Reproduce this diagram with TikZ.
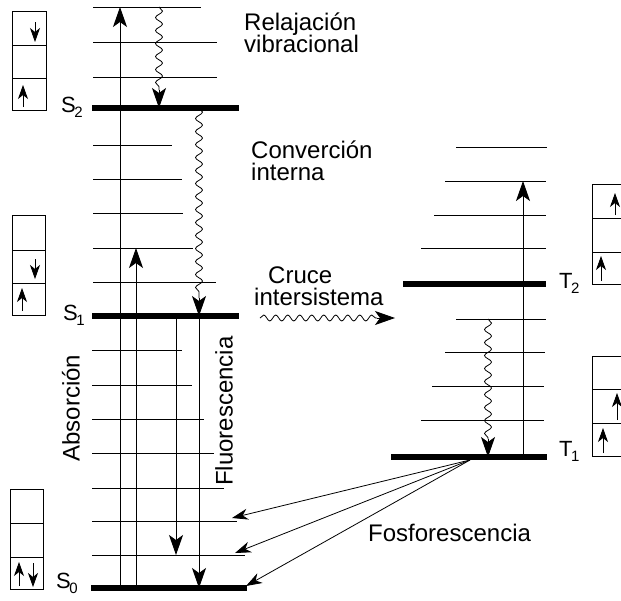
\documentclass[tikz,border=0pt]{standalone}
\usepackage{fontspec}
\setmainfont{Liberation Sans}
\usetikzlibrary{arrows.meta,decorations.pathmorphing}

% state label with a tucked-in subscript
\newcommand\statelbl[2]{#1\kern-1.5pt\raisebox{-5pt}{\fontsize{15}{15}\selectfont #2}}

\begin{document}
\begin{tikzpicture}[x=1pt,y=-1pt,
  vib/.style={line width=0.9pt},
  elec/.style={line width=5.5pt},
  trans/.style={line width=0.9pt,-{Stealth[length=20pt,width=14pt,inset=5pt]}},
  phos/.style={line width=0.8pt,-{Stealth[length=16pt,width=11pt,inset=5pt]}},
  spin/.style={line width=0.8pt,-{Stealth[length=14pt,width=10pt,inset=4pt]}},
  wavy/.style={line width=0.8pt,decorate,decoration={snake,amplitude=3.5pt,segment length=13pt}},
  cell/.style={line width=0.9pt},
  lbl/.style={inner sep=0pt,font=\fontsize{24}{22}\selectfont},
  statename/.style={inner sep=0pt,anchor=base west,font=\fontsize{22}{22}\selectfont}
]
\clip (0,0) rectangle (621,600);
\fill[white] (0,0) rectangle (621,600);

% ---------- singlet manifold ----------
% vibrational sublevels of S2
\draw[vib] (93,7) -- (201,7);
\draw[vib] (93,42) -- (217,42);
\draw[vib] (93,77) -- (217,77);
% vibrational sublevels of S1
\draw[vib] (93,145) -- (172,145);
\draw[vib] (93,179) -- (182,179);
\draw[vib] (93,213) -- (183,213);
\draw[vib] (93,248) -- (193,248);
\draw[vib] (93,282) -- (216,282);
% vibrational sublevels of S0
\draw[vib] (92,350) -- (182,350);
\draw[vib] (92,385) -- (192,385);
\draw[vib] (92,419) -- (204,419);
\draw[vib] (92,453) -- (214,453);
\draw[vib] (92,488) -- (224,488);
\draw[vib] (92,521) -- (237,521);
\draw[vib] (92,555) -- (245,555);
% electronic levels
\draw[elec] (92,108) -- (239,108);
\draw[elec] (92,316) -- (239,316);
\draw[elec] (91,588) -- (247,588);

% ---------- triplet manifold ----------
\draw[vib] (456,147) -- (547,147);
\draw[vib] (445,181) -- (546,181);
\draw[vib] (434,215) -- (546,215);
\draw[vib] (421,248) -- (546,248);
\draw[vib] (456,319) -- (546,319);
\draw[vib] (445,352) -- (545,352);
\draw[vib] (432,386) -- (544,386);
\draw[vib] (421,420) -- (544,420);
\draw[elec] (403,284) -- (546,284);
\draw[elec] (391,457) -- (547,457);

% ---------- transition end points ----------
\coordinate (absA0) at (120,588);  \coordinate (absA1) at (120,7);
\coordinate (absB0) at (136,588);  \coordinate (absB1) at (136,248);
\coordinate (fluA0) at (176,316);  \coordinate (fluA1) at (176,555);
\coordinate (fluB0) at (199,316);  \coordinate (fluB1) at (199,588);
\coordinate (tabs0) at (523,457);  \coordinate (tabs1) at (523,181);
\coordinate (rv0) at (159,7);      \coordinate (rv1) at (159,90);    \coordinate (rv2) at (159,108);
\coordinate (ci0) at (199,108);    \coordinate (ci1) at (199,298);   \coordinate (ci2) at (199,316);
\coordinate (tr0) at (488,319);    \coordinate (tr1) at (488,439);   \coordinate (tr2) at (488,457);
\coordinate (isc0) at (260,318);   \coordinate (isc1) at (377,318);  \coordinate (isc2) at (395,318);
\coordinate (ph0) at (470,460);
\coordinate (ph1) at (232,518);
\coordinate (ph2) at (235,553);
\coordinate (ph3) at (246,586);

% absorption and fluorescence
\draw[trans] (absA0) -- (absA1);
\draw[trans] (absB0) -- (absB1);
\draw[trans] (fluA0) -- (fluA1);
\draw[trans] (fluB0) -- (fluB1);
\draw[trans] (tabs0) -- (tabs1);

% non-radiative (wavy) transitions
\draw[wavy] (rv0) -- (rv1);   \draw[trans] (rv1) -- (rv2);
\draw[wavy] (ci0) -- (ci1);   \draw[trans] (ci1) -- (ci2);
\draw[wavy] (tr0) -- (tr1);   \draw[trans] (tr1) -- (tr2);
\draw[wavy,decoration={snake,amplitude=3pt,segment length=12pt}] (isc0) -- (isc1);
\draw[trans] (isc1) -- (isc2);

% phosphorescence
\draw[phos] (ph0) -- (ph1);
\draw[phos] (ph0) -- (ph2);
\draw[phos] (ph0) -- (ph3);

% ---------- orbital occupancy boxes ----------
% S2
\draw[cell] (12,11) rectangle (46,110);
\draw[cell] (12,45) -- (46,45);
\draw[cell] (12,78) -- (46,78);
\draw[spin] (35,22) -- (35,42);
\draw[spin] (23,107) -- (23,85);
% S1
\draw[cell] (12,215) rectangle (45,315);
\draw[cell] (12,250) -- (45,250);
\draw[cell] (12,283) -- (45,283);
\draw[spin] (35,259) -- (35,279);
\draw[spin] (22,311) -- (22,288);
% S0
\draw[cell] (10,489) rectangle (43,589);
\draw[cell] (10,523) -- (43,523);
\draw[cell] (10,557) -- (43,557);
\draw[spin] (19,586) -- (19,562);
\draw[spin] (33,563) -- (33,587);
% T2
\draw[cell] (640,184) -- (592,184) -- (592,284) -- (640,284);
\draw[cell] (592,218) -- (640,218);
\draw[cell] (592,252) -- (640,252);
\draw[spin] (615,215) -- (615,193);
\draw[spin] (601,281) -- (601,256);
% T1
\draw[cell] (640,356) -- (592,356) -- (592,456) -- (640,456);
\draw[cell] (592,389) -- (640,389);
\draw[cell] (592,423) -- (640,423);
\draw[spin] (617,420) -- (617,393);
\draw[spin] (603,453) -- (603,428);

% ---------- state names ----------
\node[statename] (nS2) at (61,112) {\statelbl{S}{2}};
\node[statename] (nS1) at (63,320) {\statelbl{S}{1}};
\node[statename] (nS0) at (56,588) {\statelbl{S}{0}};
\node[statename] (nT2) at (559,288) {\statelbl{T}{2}};
\node[statename] (nT1) at (559,456) {\statelbl{T}{1}};

% ---------- process names ----------
\node[lbl,anchor=base west] (rel1) at (244,30) {Relajación};
\node[lbl,anchor=base west] (rel2) at (244,52) {vibracional};
\node[lbl,anchor=base west] (con1) at (251,158) {Converción};
\node[lbl,anchor=base west] (con2) at (251,180) {interna};
\node[lbl,anchor=base west] (cru1) at (268,283) {Cruce};
\node[lbl,anchor=base west] (cru2) at (254,305) {intersistema};
\node[lbl,anchor=base west] (fos) at (368,541) {Fosforescencia};
\node[lbl,rotate=90] (abs) at (71,408) {Absorción};
\node[lbl,rotate=90] (flu) at (224,411) {Fluorescencia};
\end{tikzpicture}
\end{document}
